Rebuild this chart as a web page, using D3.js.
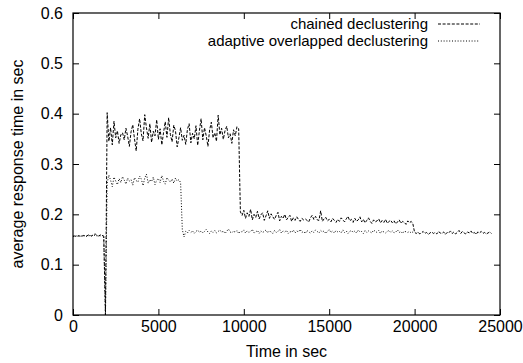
<!DOCTYPE html>
<html>
<head>
<meta charset="utf-8">
<script src="https://cdn.jsdelivr.net/npm/d3@7"></script>
<style>
  body { margin: 0; background: #fff; }
  svg { display: block; }
  text { font-family: "Liberation Sans", Arial, Helvetica, sans-serif; fill: #000; }
</style>
</head>
<body>
<svg id="chart" width="523" height="363"></svg>
<script>
// ---- data ----
const timeStep = 100; // seconds between samples, series start at t = 0
const seriesNames = ["chained declustering", "adaptive overlapped declustering"];
const xTicks = [0, 5000, 10000, 15000, 20000, 25000];
const yTicks = [0, 0.1, 0.2, 0.3, 0.4, 0.5, 0.6];
const xLabel = "Time in sec";
const yLabel = "average response time in sec";

const chained = [
  0.156,0.157,0.156,0.157,0.157,0.156,0.158,0.157,0.157,0.159,0.158,0.157,0.160,0.161,0.158,0.157,0.159,0.158,0.157,
  0,
  0.402,0.345,0.372,0.338,0.385,0.352,0.366,0.341,0.358,0.362,
  0.348,0.371,0.355,0.335,0.364,0.378,0.350,0.326,0.369,0.390,
  0.360,0.346,0.398,0.372,0.351,0.380,0.343,0.365,0.356,0.388,
  0.349,0.370,0.338,0.362,0.384,0.353,0.392,0.359,0.344,0.377,
  0.366,0.334,0.352,0.372,0.347,0.357,0.339,0.369,0.380,0.342,
  0.361,0.350,0.376,0.337,0.366,0.390,0.348,0.372,0.356,0.335,
  0.368,0.383,0.352,0.362,0.345,0.397,0.358,0.371,0.349,0.366,
  0.375,0.352,0.360,0.341,0.368,0.356,0.374,0.370,
  0.205,0.198,0.208,0.192,0.203,0.196,0.210,0.189,0.200,0.194,
  0.206,0.191,0.199,0.203,0.188,0.197,0.207,0.192,0.201,0.195,
  0.190,0.198,0.204,0.187,0.196,0.192,0.200,0.189,0.194,0.198,
  0.186,0.193,0.188,0.195,0.190,0.186,0.192,0.189,0.191,0.188,
  0.185,0.193,0.198,0.190,0.196,0.189,0.188,0.207,0.186,0.191,
  0.194,0.187,0.190,0.185,0.192,0.188,0.184,0.190,0.186,0.193,
  0.189,0.185,0.191,0.196,0.187,0.190,0.184,0.192,0.186,0.189,
  0.195,0.185,0.190,0.183,0.188,0.193,0.186,0.182,0.189,0.185,
  0.187,0.191,0.183,0.188,0.184,0.190,0.182,0.186,0.188,0.183,
  0.187,0.181,0.185,0.189,0.182,0.186,0.184,0.180,0.187,0.183,
  0.186,0.181,
  0.164,0.162,0.165,0.161,0.163,0.166,0.162,0.164,0.160,0.163,
  0.165,0.162,0.164,0.161,0.166,0.163,0.162,0.165,0.160,0.164,
  0.163,0.167,0.162,0.165,0.161,0.164,0.168,0.162,0.166,0.163,
  0.161,0.165,0.163,0.167,0.162,0.164,0.160,0.165,0.163,0.166,
  0.162,0.164,0.161,0.163,0.165,0.162
];

const adaptive = [
  0.157,0.156,0.157,0.158,0.156,0.157,0.157,0.158,0.156,0.157,0.158,0.157,0.159,0.158,0.157,0.158,0.157,0.158,0.157,
  0,
  0.262,0.278,0.268,0.255,0.274,0.266,0.259,0.271,0.263,0.275,
  0.268,0.260,0.272,0.266,0.269,0.258,0.273,0.267,0.264,0.276,
  0.270,0.257,0.272,0.280,0.262,0.269,0.265,0.274,0.259,0.268,
  0.271,0.263,0.277,0.266,0.260,0.273,0.268,0.264,0.270,0.262,
  0.272,0.266,0.269,0.263,
  0.170,0.155,0.166,0.163,0.168,0.164,0.167,0.162,0.166,0.169,
  0.164,0.167,0.163,0.166,0.170,0.165,0.162,0.167,0.164,0.168,
  0.163,0.166,0.169,0.164,0.167,0.162,0.166,0.171,0.165,0.163,
  0.167,0.164,0.168,0.162,0.166,0.165,0.169,0.163,0.167,0.164,
  0.166,0.170,0.163,0.165,0.168,0.162,0.167,0.164,0.166,0.169,
  0.163,0.167,0.165,0.162,0.168,0.164,0.166,0.170,0.163,0.167,
  0.165,0.168,0.162,0.166,0.164,0.169,0.163,0.167,0.165,0.170,
  0.164,0.166,0.162,0.168,0.165,0.163,0.167,0.164,0.169,0.166,
  0.163,0.168,0.165,0.167,0.162,0.166,0.170,0.164,0.167,0.163,
  0.168,0.165,0.166,0.163,0.169,0.164,0.167,0.162,0.166,0.168,
  0.164,0.167,0.163,0.169,0.165,0.166,0.162,0.168,0.164,0.167,
  0.165,0.163,0.169,0.166,0.164,0.168,0.162,0.167,0.165,0.163,
  0.166,0.168,0.164,0.167,0.163,0.165,0.169,0.164,0.166,0.162,
  0.167,0.165,0.164,0.166,0.163,0.165,0.164
];

// ---- layout ----
const svg = d3.select("#chart");
const m = { left: 73, right: 500, top: 13, bottom: 315 };
const x = d3.scaleLinear().domain([0, 25000]).range([m.left, m.right]);
const y = d3.scaleLinear().domain([0, 0.6]).range([m.bottom, m.top]);
const tickLen = 6;
const fontSize = 16;

// axes (ticks inward, mirrored)
const gB = svg.append("g").attr("transform", `translate(0,${m.bottom})`)
  .call(d3.axisBottom(x).tickValues(xTicks).tickSize(-tickLen).tickPadding(6).tickFormat(d3.format("d")));
const gT = svg.append("g").attr("transform", `translate(0,${m.top})`)
  .call(d3.axisTop(x).tickValues(xTicks).tickSize(-tickLen).tickFormat(""));
const gL = svg.append("g").attr("transform", `translate(${m.left},0)`)
  .call(d3.axisLeft(y).tickValues(yTicks).tickSize(-tickLen).tickPadding(10).tickFormat(d => d === 0 ? "0" : d3.format(".1f")(d)));
const gR = svg.append("g").attr("transform", `translate(${m.right},0)`)
  .call(d3.axisRight(y).tickValues(yTicks).tickSize(-tickLen).tickFormat(""));
[gB, gT, gL, gR].forEach(g => {
  g.select(".domain").remove();
  g.selectAll(".tick line").attr("stroke", "#000").attr("stroke-width", 1);
  g.selectAll("text").attr("font-size", fontSize).attr("font-family", "Liberation Sans, Arial, sans-serif");
});

// frame
svg.append("rect")
  .attr("x", m.left).attr("y", m.top)
  .attr("width", m.right - m.left).attr("height", m.bottom - m.top)
  .attr("fill", "none").attr("stroke", "#000").attr("stroke-width", 1.2);

// lines
const line = d3.line().x((d, i) => x(i * timeStep)).y(d => y(d));
const dashes = ["3,1.6", "1,1.8"];
[chained, adaptive].forEach((s, k) => {
  svg.append("path").datum(s)
    .attr("d", line)
    .attr("fill", "none").attr("stroke", "#000").attr("stroke-width", 1)
    .attr("stroke-dasharray", dashes[k]);
});

// legend
const legRight = 428, legY0 = 24, legDy = 17;
seriesNames.forEach((name, k) => {
  const yy = legY0 + k * legDy;
  svg.append("text").attr("x", legRight).attr("y", yy).attr("dy", "0.35em")
    .attr("text-anchor", "end").attr("font-size", 15).text(name);
  svg.append("line").attr("x1", 438).attr("x2", 480).attr("y1", yy).attr("y2", yy)
    .attr("stroke", "#000").attr("stroke-width", 1).attr("stroke-dasharray", dashes[k]);
});

// axis labels
svg.append("text").attr("x", (m.left + m.right) / 2).attr("y", 357)
  .attr("text-anchor", "middle").attr("font-size", fontSize).text(xLabel);
svg.append("text").attr("transform", `translate(23,${(m.top + m.bottom) / 2}) rotate(-90)`)
  .attr("text-anchor", "middle").attr("font-size", fontSize).text(yLabel);
</script>
</body>
</html>
